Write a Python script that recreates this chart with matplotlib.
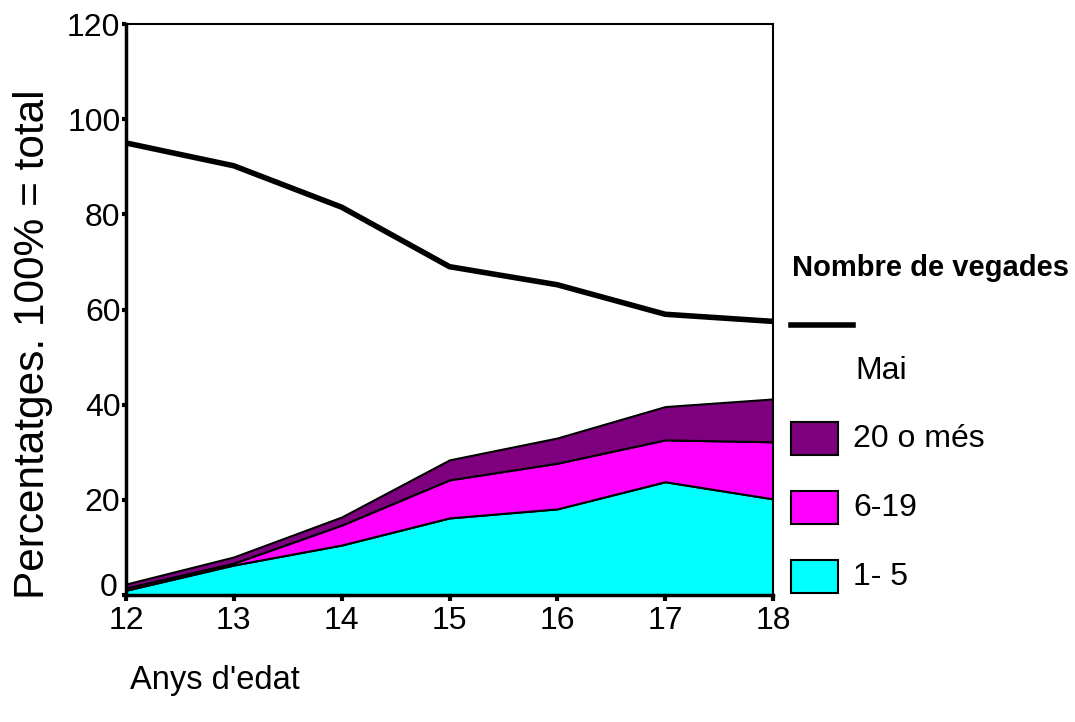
import matplotlib
matplotlib.use("Agg")
import matplotlib.pyplot as plt
import matplotlib.transforms as mtransforms
from matplotlib.patches import Rectangle
from matplotlib.lines import Line2D

plt.rcParams['font.family'] = ['Liberation Sans', 'DejaVu Sans']

ages = [12, 13, 14, 15, 16, 17, 18]
mai = [95.0, 90.2, 81.5, 69.0, 65.2, 59.0, 57.5]
s1_5 = [1.0, 6.3, 10.5, 16.2, 18.1, 23.8, 20.2]
s6_19 = [0.5, 0.4, 4.2, 8.0, 9.6, 8.8, 12.0]
s20 = [0.8, 1.3, 1.7, 4.2, 5.3, 7.0, 9.0]
labels = ["1- 5", "6-19", "20 o més"]
colors = ["#00FFFF", "#FF00FF", "#7F007F"]
yticks = [0, 20, 40, 60, 80, 100, 120]

fig = plt.figure(figsize=(10.75, 7.22), dpi=100)
ax = fig.add_axes([126/1075, 1-595/722, (773-126)/1075, (595-24)/722])

ax.stackplot(ages, s1_5, s6_19, s20, colors=colors, edgecolor='black', linewidth=1.5)
ax.plot(ages, mai, color='black', lw=4)

ax.set_xlim(12, 18)
ax.set_ylim(0, 120)
ax.set_xticks(ages)
ax.set_yticks(yticks)
ax.tick_params(axis='x', labelsize=23, length=4, width=3, direction='out', colors='black', pad=4)
ax.tick_params(axis='y', labelsize=23, length=3, width=3, direction='out', colors='black', pad=1)
for s in ['left', 'bottom']:
    ax.spines[s].set_linewidth(2.5)
for s in ['top', 'right']:
    ax.spines[s].set_linewidth(1.5)

# lift the "0" label slightly, as in the reference
fig.canvas.draw()
lab0 = ax.get_yticklabels()[0]
lab0.set_transform(lab0.get_transform() + mtransforms.ScaledTranslation(-3/100, 10/100, fig.dpi_scale_trans))

fig.text(33/1075, 1-344/722, "Percentatges. 100% = total", rotation=90, fontsize=30.5,
         ha='center', va='center')
fig.text(130/1075, 1-680/722, "Anys d'edat", fontsize=23.5, ha='left', va='center')

# Legend
W, H = 1075, 722
fig.text(792/W, 1-268/H, "Nombre de vegades", fontsize=21, fontweight='bold', ha='left', va='center')
fig.add_artist(Line2D([791/W, 853/W], [1-325/H, 1-325/H], color='black', lw=4, transform=fig.transFigure))
fig.text(855/W, 1-371/H, "Mai", fontsize=23, ha='left', va='center')
ys = [577, 508, 439]
for lab, col, yc in zip(labels, colors, ys):
    fig.add_artist(Rectangle((791/W, 1-(yc+16)/H), 47/W, 33/H, facecolor=col, edgecolor='black',
                             lw=1.5, transform=fig.transFigure))
    fig.text(853/W, 1-yc/H, lab, fontsize=23, ha='left', va='center')

fig.savefig("out.png", dpi=100)
